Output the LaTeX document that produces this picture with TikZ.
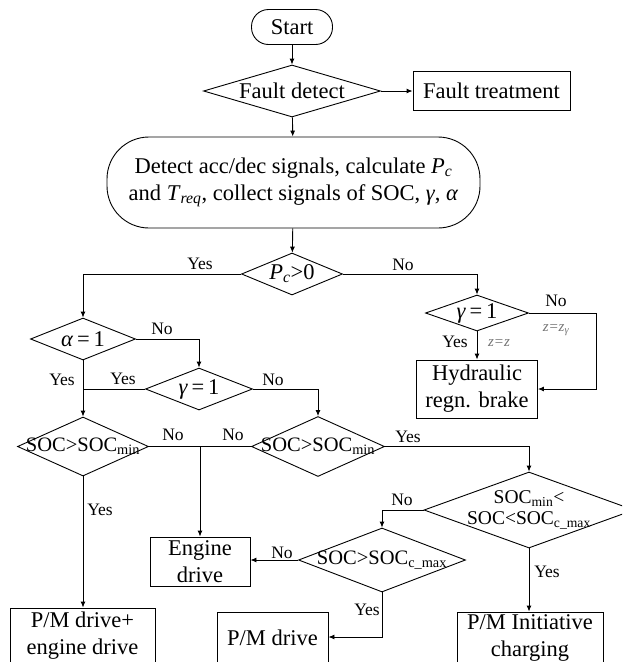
\documentclass[tikz,border=0pt]{standalone}
\usepackage{fontspec}
\setmainfont{Liberation Serif}
\usetikzlibrary{shapes.geometric,arrows.meta}
\begin{document}
\begin{tikzpicture}[x=1pt,y=-1pt,
  every node/.style={inner sep=0pt},
  box/.style={draw, rectangle, align=center, line width=0.9pt, font=\fontsize{22.5}{27}\selectfont},
  dia/.style={draw, diamond, line width=0.9pt, font=\fontsize{20.5}{24}\selectfont},
  big/.style={font=\fontsize{22.5}{27}\selectfont},
  lbl/.style={font=\fontsize{17.5}{20}\selectfont},
  zl/.style={font=\fontsize{15}{18}\selectfont\itshape, text=black!55},
  arr/.style={-{Latex[length=6pt,width=5pt]}, line width=0.9pt},
  ln/.style={line width=0.9pt}]
\useasboundingbox (0,0) rectangle (622,662);
\clip (0,0) rectangle (622,662);

% nodes
\node[box, rounded corners=17pt, minimum width=81pt, minimum height=35pt] (start) at (292,27) {Start};
\node[dia, big, minimum width=177pt, minimum height=52pt] (fd) at (292,91) {\makebox[0pt]{Fault detect}};
\node[box, minimum width=157pt, minimum height=39pt] (ft) at (491.5,91) {Fault treatment};
\node[box, rounded corners=42pt, minimum width=373pt, minimum height=91pt] (det) at (293.5,182.5)
  {Detect acc/dec signals, calculate \textit{P}\textsubscript{\textit{c}}\\
   and \textit{T}\textsubscript{\textit{req}}, collect signals of SOC, \textit{γ}, \textit{α}};
\node[dia, big, minimum width=101pt, minimum height=42pt] (pc) at (292,274) {\makebox[0pt]{\textit{P}\textsubscript{\textit{c}}>0}};
\node[dia, big, minimum width=103pt, minimum height=36pt] (gr) at (477,313) {\makebox[0pt]{\textit{γ}\,=\,1}};
\node[box, minimum width=121pt, minimum height=58pt] (hyd) at (477,389) {Hydraulic\\regn. brake};
\node[dia, big, minimum width=105pt, minimum height=42pt] (al) at (83,339) {\makebox[0pt]{\textit{α}\,=\,1}};
\node[dia, big, minimum width=107pt, minimum height=42pt] (gl) at (199,389) {\makebox[0pt]{\textit{γ}\,=\,1}};
\node[dia, minimum width=131pt, minimum height=59pt] (s1) at (83,446.5) {\makebox[0pt]{SOC>SOC\textsubscript{min}}};
\node[dia, minimum width=133pt, minimum height=60pt] (s2) at (318,446.5) {\makebox[0pt]{SOC>SOC\textsubscript{min}}};
\node[dia, minimum width=210pt, minimum height=76pt, font=\fontsize{19.5}{21}\selectfont] (s3) at (529,510)
  {\makebox[0pt]{\begin{tabular}{@{}c@{}}SOC\textsubscript{min}<\\SOC<SOC\textsubscript{c\_max}\end{tabular}}};
\node[dia, minimum width=167pt, minimum height=64pt] (s4) at (382,560) {\makebox[0pt]{SOC>SOC\textsubscript{c\_max}}};
\node[box, minimum width=100pt, minimum height=49pt] (eng) at (200,561.5) {Engine\\drive};
\node[box, minimum width=145pt, minimum height=56pt] (pme) at (82.5,636) {P/M drive+\\engine drive};
\node[box, minimum width=111pt, minimum height=52pt] (pmd) at (272.5,638) {P/M drive};
\node[box, minimum width=146pt, minimum height=52pt] (pmi) at (530,638) {P/M Initiative\\charging};

% connectors
\draw[arr] (start) -- (fd);
\draw[arr] (fd) -- (ft);
\draw[arr] (fd) -- (det);
\draw[arr] (det) -- (pc);
\draw[arr] (pc.west) -| (al.north);
\draw[arr] (pc.east) -| (gr.north);
\coordinate (grc) at (596,313);
\draw[arr] (gr.east) -- (grc) |- (hyd.east);
\draw[arr] (gr) -- (hyd);
\draw[arr] (al.east) -| (gl.north);
\draw[arr] (al) -- (s1);
\draw[ln] (gl.west) -- (gl.west -| al.south);
\draw[arr] (gl.east) -| (s2.north);
\draw[ln] (s1.east) -- (s2.west);
\coordinate (j) at (200,446.5);
\draw[arr] (j) -- (eng.north);
\draw[arr] (s2.east) -| (s3.north);
\draw[arr] (s3.west) -| (s4.north);
\draw[arr] (s3.south) -- (s3.south |- pmi.north);
\draw[arr] (s4.west) -- (s4.west -| eng.east);
\coordinate (s4c) at (382,637);
\draw[arr] (s4.south) -- (s4c) -- (s4c -| pmd.east);
\draw[arr] (s1.south) -- (s1.south |- pme.north);

% labels
\node[lbl] (l1) at (200,264) {Yes};
\node[lbl] (l2) at (403,265) {No};
\node[lbl] (l3) at (556,301) {No};
\node[zl] (z1) at (556,330) {z=z\textsubscript{γ}};
\node[lbl] (l4) at (455,342) {Yes};
\node[zl] (z2) at (499,343) {z=z};
\node[lbl] (l5) at (162,329) {No};
\node[lbl] (l6) at (62,380) {Yes};
\node[lbl] (l7) at (123,379) {Yes};
\node[lbl] (l8) at (273,380) {No};
\node[lbl] (l9) at (173,435) {No};
\node[lbl] (l10) at (233,435) {No};
\node[lbl] (l11) at (408,437) {Yes};
\node[lbl] (l12) at (402,500) {No};
\node[lbl] (l13) at (547,572) {Yes};
\node[lbl] (l14) at (282,553) {No};
\node[lbl] (l15) at (367,610) {Yes};
\node[lbl] (l16) at (100,510) {Yes};
\end{tikzpicture}
\end{document}
